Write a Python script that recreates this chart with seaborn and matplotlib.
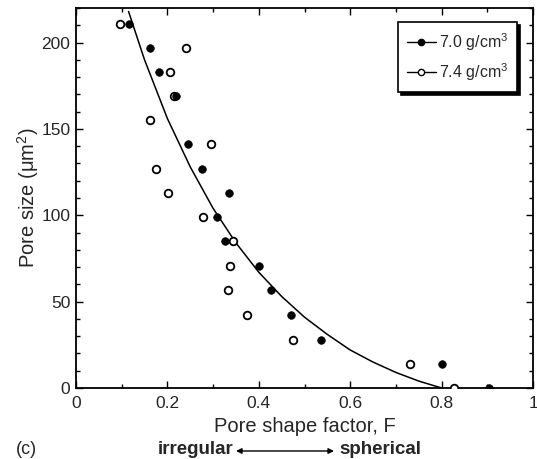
# pore_shape_plot.py
#
# Pore size vs. pore shape factor for two sintered densities, panel (c)

import numpy as np
import pandas as pd
import seaborn as sns
from matplotlib import pyplot as plt
from matplotlib.lines import Line2D

# measured pores, 7.0 g/cm3 (filled symbols)
shape_70 = [0.116, 0.161, 0.182, 0.219, 0.244, 0.276, 0.335, 0.309,
            0.325, 0.400, 0.426, 0.471, 0.535, 0.800, 0.904]
size_70  = [211, 197, 183, 169, 141, 127, 113, 99,
            85, 70.5, 56.5, 42.5, 28, 14, 0]

# measured pores, 7.4 g/cm3 (open symbols)
shape_74 = [0.096, 0.241, 0.206, 0.214, 0.163, 0.295, 0.174, 0.201,
            0.277, 0.344, 0.336, 0.333, 0.374, 0.474, 0.730, 0.828]
size_74  = [211, 197, 183, 169, 155, 141, 127, 113,
            99, 85, 70.5, 56.5, 42.5, 28, 14, 0]

# fitted trend line
fit_shape = [0.115, 0.15, 0.20, 0.25, 0.30, 0.35, 0.40, 0.45,
             0.50, 0.55, 0.60, 0.65, 0.70, 0.75, 0.80]
fit_size  = [218, 190, 156, 128, 104, 84, 67, 53,
             41, 31, 22, 15, 9, 4, 0]

legend_labels = ['7.0 g/cm$^3$', '7.4 g/cm$^3$']

# set up style
sns.set_theme(style='ticks')
plt.rcParams['font.family'] = ['Liberation Sans', 'DejaVu Sans']
plt.rcParams['mathtext.fontset'] = 'custom'
plt.rcParams['mathtext.rm'] = 'Liberation Sans'
plt.rcParams['mathtext.it'] = 'Liberation Sans:italic'

fig, ax = plt.subplots(figsize=(5.37, 4.59), dpi=100)
fig.subplots_adjust(left=0.1415, right=0.9926, top=0.9826, bottom=0.1547)

# fitted curve
sns.lineplot(x=fit_shape, y=fit_size, sort=False, color='black',
             linewidth=1.1, ax=ax)

# data points
sns.scatterplot(x=shape_74, y=size_74, marker='o', s=30, facecolor='white',
                edgecolor='black', linewidth=1.3, zorder=3, ax=ax)
sns.scatterplot(x=shape_70, y=size_70, marker='o', s=30, color='black',
                edgecolor='black', linewidth=0.5, zorder=4, ax=ax)

# axes limits and ticks
ax.set_xlim(0, 1)
ax.set_ylim(0, 220)
ax.set_xticks(np.arange(0, 1.01, 0.2))
ax.set_xticklabels(['0', '0.2', '0.4', '0.6', '0.8', '1'])
ax.set_xticks(np.arange(0.1, 1.0, 0.2), minor=True)
ax.set_yticks(np.arange(0, 201, 50))
ax.set_yticks(np.arange(0, 221, 10), minor=True)
ax.tick_params(which='both', direction='in', top=True, right=True,
               width=1.0, color='black')
ax.tick_params(which='major', length=5)
ax.tick_params(which='minor', length=3)
ax.tick_params(axis='x', which='major', pad=6, labelsize=12.5)
ax.tick_params(axis='y', which='major', pad=4, labelsize=12.5)
for spine in ax.spines.values():
    spine.set_linewidth(1.3)
    spine.set_color('black')

ax.set_xlabel('Pore shape factor, F', fontsize=14.5, labelpad=4)
ax.set_ylabel('Pore size (\u03bcm$^2$)', fontsize=14.5, labelpad=0.5)

# legend with line + marker handles
handles = [
    Line2D([], [], color='black', lw=1.0, marker='o', markersize=4.5,
           markerfacecolor='black', markeredgecolor='black'),
    Line2D([], [], color='black', lw=1.0, marker='o', markersize=4.5,
           markerfacecolor='white', markeredgecolor='black'),
]
leg = ax.legend(handles, legend_labels, loc='upper right',
                bbox_to_anchor=(0.965, 0.963), borderaxespad=0,
                fontsize=11.5, handlelength=1.8, handletextpad=0.2,
                fancybox=False, frameon=True, borderpad=0.55,
                labelspacing=0.55,
                shadow={'color': 'black', 'alpha': 1.0})
leg.get_frame().set_edgecolor('black')
leg.get_frame().set_linewidth(1.2)
leg.get_frame().set_alpha(1.0)

# panel label and shape direction arrow
fig.text(0.030, 1 - 450/459, '(c)', fontsize=13, va='center')
fig.text(158/537, 1 - 450/459, 'irregular', fontsize=13.5,
         fontweight='bold', va='center', ha='left')
fig.text(339/537, 1 - 450/459, 'spherical', fontsize=13.5,
         fontweight='bold', va='center', ha='left')
ax.annotate('', xy=(334/537, 1 - 451/459), xytext=(236/537, 1 - 451/459),
            xycoords='figure fraction', textcoords='figure fraction',
            arrowprops=dict(arrowstyle='<|-|>', color='black', lw=1.0,
                            mutation_scale=8, shrinkA=0, shrinkB=0))

plt.savefig('out.png', dpi=100)
plt.close()
